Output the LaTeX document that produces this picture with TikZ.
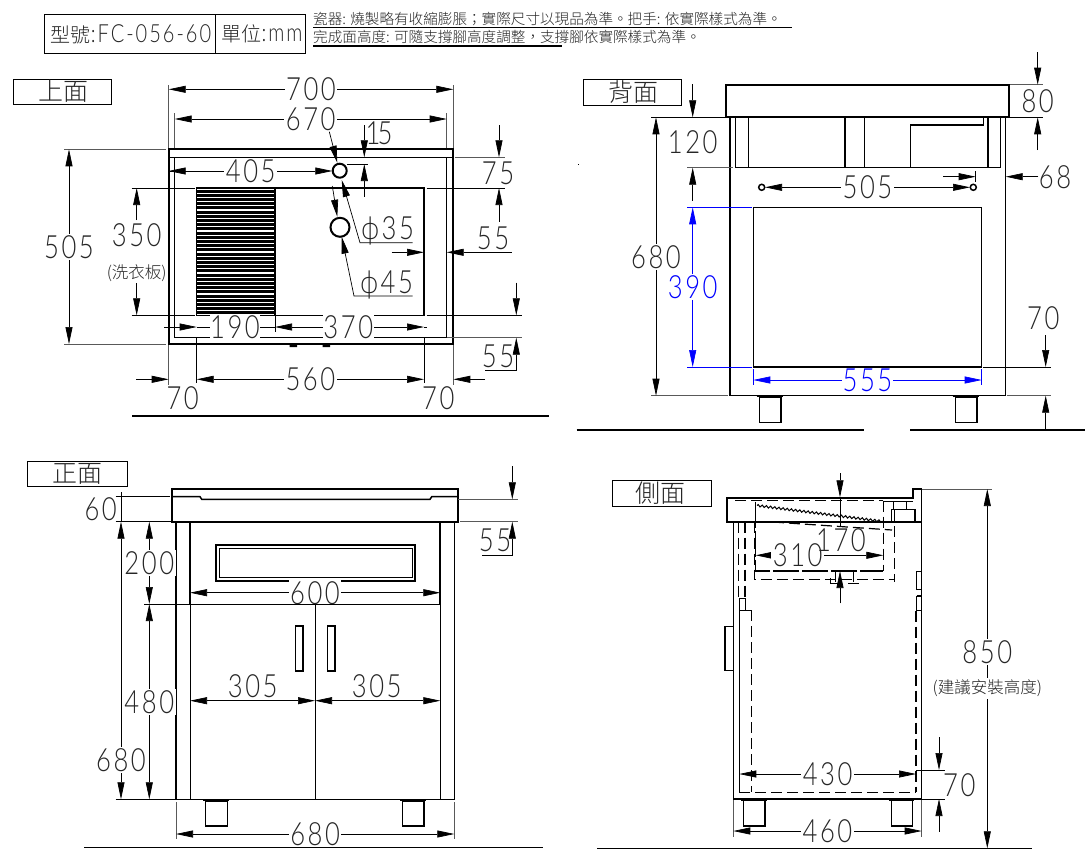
\documentclass[tikz,border=0pt]{standalone}
\usepackage{fontspec}
\usetikzlibrary{arrows.meta,decorations.pathmorphing}
\setmainfont{Liberation Sans}
\newfontfamily\cjk[UprightFont=* Light]{Noto Sans CJK TC}
\newfontfamily\dimf[UprightFont=* Light,FakeStretch=0.8,LetterSpace=8]{Lato}
\definecolor{ext}{gray}{0.35}
\tikzset{
  x=1pt,y=-1pt,
  obj/.style={draw=black,line width=1.5pt,line join=miter},
  thick obj/.style={draw=black,line width=2pt},
  thinl/.style={draw=black,line width=0.8pt},
  extl/.style={draw=ext,line width=0.9pt},
  hid/.style={draw=black,line width=1.2pt,dash pattern=on 11pt off 5pt},
  dim/.style={draw=black,line width=0.7pt},
  d2/.style={dim,{Triangle[length=17pt,width=7pt]}-{Triangle[length=17pt,width=7pt]}},
  d1/.style={dim,-{Triangle[length=17pt,width=7pt]}},
  dt/.style={font=\dimf\fontsize{32}{32}\selectfont,text=black!85,fill=white,inner sep=1.5pt,text height=23pt,text depth=0pt,anchor=center},
  dtn/.style={dt,fill=none},
  cj/.style={font=\cjk\fontsize{16.5}{18}\selectfont,text=black!85,inner sep=0pt},
  note/.style={font=\cjk\fontsize{14.6}{16}\selectfont,text=black!85,inner sep=0pt,anchor=west},
  lab/.style={draw=black,line width=0.9pt,fill=white},
  labt/.style={font=\cjk\fontsize{25}{25}\selectfont,text=black!85,inner sep=0pt},
}
\begin{document}
\begin{tikzpicture}
\useasboundingbox (0,0) rectangle (1085,863);
\fill[white] (0,0) rectangle (1085,863);

% ===== title block
\draw[thinl,line width=1pt] (44,14) rectangle (305,53);
\draw[thinl,line width=1pt] (215,14) -- (215,53);
\node (tmodel) [font=\fontsize{20}{20}\selectfont,inner sep=0pt,text=black!85] at (131,34) {{\cjk 型號}{\dimf\fontsize{25}{25}\selectfont :FC-056-60}};
\node (tunit) [font=\fontsize{20}{20}\selectfont,inner sep=0pt,text=black!85] at (262,34) {{\cjk 單位}{\dimf\fontsize{25}{25}\selectfont :mm}};
\node (n1) [note] at (313,18.5) {瓷器: 燒製略有收縮膨脹；實際尺寸以現品為準。把手: 依實際樣式為準。};
\node (n2) [note] at (313,37) {完成面高度: 可隨支撐腳高度調整，支撐腳依實際樣式為準。};
\draw[thinl] (313,27) -- (792,27);
\draw[thick obj,line width=1.2pt] (313,46) -- (562,46);

% ===== view labels
\draw[lab] (13,79) rectangle (111,104);
\node (l1) [labt] at (63,91) {上面};
\draw[lab] (583.3,79.3) rectangle (681.3,105);
\node (l2) [labt] at (633,92) {背面};
\draw[lab] (27,461) rectangle (127,486);
\node (l3) [labt] at (77,473.5) {正面};
\draw[lab] (612,480) rectangle (711,506);
\node (l4) [labt] at (660,493) {側面};

% ===== TOP VIEW
\draw[extl] (168.7,85) -- (168.7,385) (453.3,85) -- (453.3,385);
\draw[extl] (174.7,113) -- (174.7,149) (446.7,113) -- (446.7,149);
\draw[thick obj] (168.7,149.3) rectangle (453.3,344);
\draw[obj] (168.7,157.3) -- (453.3,157.3);
\draw[obj] (174.7,157.3) -- (174.7,337.7) -- (446.7,337.7) -- (446.7,157.3);
\draw[obj] (196.7,188) rectangle (424,315.3);
\draw[obj,line width=1.2pt] (275,188) -- (275,315.3);
\foreach \yy in {191,195.2,199.4,203.6,207.8,212,216.2,220.4,224.6,228.8,233,237.2,241.4,245.6,249.8,254,258.2,262.4,266.6,270.8,275,279.2,283.4,287.6,291.8,296,300.2,304.4,308.6,312.8}
  \draw[black,line width=3pt] (196.7,\yy) -- (275,\yy);
\draw[thick obj] (339.7,170.7) circle (7);
\draw[thick obj] (340,227.3) circle (9.5);
\fill[black] (289.5,344) rectangle (297,347) (322.5,344) rectangle (330,347);
\draw[thinl] (196.7,337.7) -- (196.7,383) (424,337.7) -- (424,383);
\draw[thinl] (275,315.3) -- (275,332);
\draw[extl] (64,149.3) -- (166,149.3) (64,344) -- (166,344);
\draw[thinl] (131.7,188) -- (195,188) (131.7,315.3) -- (195,315.3);
\draw[thinl] (426.7,188) -- (505,188) (426.7,315.3) -- (521.7,315.3);
\draw[extl] (455,157.3) -- (505,157.3) (446.7,337.7) -- (521.7,337.7);
\draw[thinl] (347,164) -- (368,164);

\draw[d2] (168.7,89.3) -- node (d700) [dt] {700} (453.3,89.3);
\draw[d2] (174.7,119) -- node (d670) [dt] {670} (446.7,119);
\draw[d2] (69,149.3) -- node (d505) [dt] {505} (69,344);
\draw[d1] (364.3,125) -- (364.3,157.3);
\draw[d1] (364.3,196.7) -- (364.3,164);
\node (d15) [dtn] at (379,133) {1\kern-3pt 5};
\draw[d1] (499,125) -- (499,157.3);
\draw[d1] (499,221.7) -- (499,188);
\node (d75) [dt] at (498,173) {75};
\node (d55a) [dtn] at (493,238) {55};
\draw[d1] (391.7,252.3) -- (424,252.3);
\draw[d1] (511.7,252.3) -- (446.7,252.3);
\draw[d1] (516.3,282.7) -- (516.3,315.3);
\draw[d1] (485,370) -- (516.3,370) -- (516.3,337.7);
\node (d55b) [dtn] at (498,356) {55};
\draw[d1] (136,379.3) -- (168.7,379.3);
\draw[d1] (485,379.3) -- (453.3,379.3);
\node (d70a) [dtn] at (182.7,398) {70};
\node (d70b) [dtn] at (438.3,398) {70};
\draw[d2] (196.7,379.3) -- node (d560) [dt] {560} (424,379.3);
\draw[d1] (168.7,171) -- (332.3,171);
\draw[d1] (185.7,171) -- (168.7,171);
\node (d405) [dt] at (250.7,171) {405};
\draw[d1] (412.7,242.7) -- (360,242.7) -- (341.7,180);
\node (d35) [dtn] at (387.7,228) {ϕ35};
\draw[d1] (412.7,296) -- (354,296) -- (341.7,236.7);
\node (d45) [dtn] at (386.7,281.7) {ϕ45};
\draw[d1] (329.3,131.7) -- (337.3,162.7);
\draw[d1] (332.3,186) -- (337.3,216.7);
\draw[d1] (136.7,220) -- (136.7,188);
\draw[d1] (136.7,283.3) -- (136.7,315.3);
\node (d350) [dtn] at (136.7,235) {350};
\node (dwash) [cj] at (136.7,272.7) {(洗衣板)};
\draw[d1] (164,327) -- (196.7,327);
\draw[dim] (196.7,327) -- (275,327);
\draw[d1] (300,327) -- (275,327);
\draw[d1] (300,327) -- (424,327);
\draw[dim] (424,327) -- (427,327);
\node (d190) [dt,inner sep=0.5pt] at (235,327) {190};
\node (d370) [dt,inner sep=0.5pt] at (348.3,327) {370};
\draw[thick obj,line width=1.3pt] (132.3,416) -- (549,416);

% ===== BACK VIEW
\draw[obj] (730,117.3) rectangle (1005.7,395.7);
\draw[thick obj,fill=white] (726,84.7) rectangle (1009.3,117.3);
\draw[obj] (735.7,117.3) rectangle (1000.7,167.7);
\draw[obj] (748.3,117.3) -- (748.3,167.7) (845,117.3) -- (845,167.7) (864.3,117.3) -- (864.3,167.7) (988,117.3) -- (988,167.7);
\draw[obj] (910.7,167.7) -- (910.7,125) -- (983.3,125) -- (983.3,117.3);
\draw[obj] (753.3,207.3) rectangle (981.7,367);
\draw[obj,fill=white] (761.7,187.3) circle (3);
\draw[obj,fill=white] (973.3,187.3) circle (3);
\draw[thinl] (975.7,171) -- (975.7,182);
\draw[obj] (756.7,396.5) -- (782.7,396.5);
\draw[obj] (759.3,397) rectangle (781,422.7);
\draw[obj] (952.7,396.5) -- (978.7,396.5);
\draw[obj] (955.3,397) rectangle (977,422.7);
\draw[thinl] (651,117.3) -- (726,117.3);
\draw[extl] (651,395.7) -- (728,395.7);
\draw[extl] (687,167.7) -- (733,167.7);
\draw[blue,line width=0.8pt] (687,207.3) -- (751.7,207.3) (687,367) -- (751.7,367);
\draw[extl] (1010,84.7) -- (1043,84.7);
\draw[thinl] (1010,117.3) -- (1043,117.3);
\draw[thinl] (983,367) -- (1050.7,367);
\draw[extl] (1006.7,395.7) -- (1050.7,395.7);
\draw[blue,line width=0.8pt] (753.3,369) -- (753.3,385) (981.7,369) -- (981.7,385);
\draw[d2] (656,117.3) -- node (b680) [dt] {680} (656,395.7);
\draw[d1] (692.7,84) -- (692.7,117.3);
\draw[d1] (692.7,200.7) -- (692.7,167.7);
\node (b120) [dtn] at (692.7,142.3) {120};
\draw[d2,blue,{Triangle[length=17pt,width=7pt,fill=blue]}-{Triangle[length=17pt,width=7pt,fill=blue]}] (692.7,207.3) -- node (b390) [dt,text=blue] {390} (692.7,367);
\draw[d2,blue,{Triangle[length=17pt,width=7pt,fill=blue]}-{Triangle[length=17pt,width=7pt,fill=blue]}] (753.3,380) -- node (b555) [dt,text=blue,inner sep=0.5pt] {555} (981.7,380);
\draw[d2] (765,187.3) -- node (b505) [dt] {505} (970,187.3);
\draw[d1] (943.3,176.7) -- (975.7,176.7);
\draw[d1] (1038.3,176.7) -- (1005.7,176.7);
\node (b68) [dtn] at (1055,176.7) {68};
\draw[d1] (1037.7,52) -- (1037.7,84.7);
\draw[d1] (1037.7,150) -- (1037.7,117.3);
\node (b80) [dtn] at (1037.7,100.7) {80};
\draw[d1] (1045.7,335) -- (1045.7,367);
\draw[d1] (1045.7,429) -- (1045.7,395.7);
\node (b70) [dtn] at (1043.3,318.3) {70};
\fill[black] (577.5,163.5) rectangle (578.5,164.5);
\draw[thick obj,line width=1.3pt] (576.7,430) -- (864,430) (910,430) -- (1085,430);

% ===== FRONT VIEW
\draw[obj] (176,521.7) rectangle (454.3,799.3);
\draw[thick obj,fill=white] (172.3,489) rectangle (458.3,521.7);
\draw[obj] (172.3,496.7) -- (200,496.7) -- (201.7,499.3) -- (430,499.3) -- (431.7,496.7) -- (458.3,496.7);
\draw[thick obj] (190,521.7) -- (190,604) (440.3,521.7) -- (440.3,604);
\draw[thinl,line width=1pt] (190,604) -- (190,799.3) (440.3,604) -- (440.3,799.3);
\draw[thick obj] (215.7,544.7) rectangle (415,580.7);
\draw[thinl] (219,548) rectangle (412.3,577.7);
\draw[d2] (190,592.7) -- (440.3,592.7);
\node (f600) [dt] at (315,592.7) {600};
\draw[thinl] (144,604) -- (441,604);
\draw[thinl] (315,604) -- (315,799.3);
\draw[obj,line width=1.2pt] (295.7,626) rectangle (303,671) (327.7,626) rectangle (335,671);
\draw[d2] (190,700.7) -- (315,700.7);
\draw[d2] (315,700.7) -- (440.3,700.7);
\node (f305a) [dtn] at (252.7,686) {305};
\node (f305b) [dtn] at (376.7,686) {305};
\draw[obj] (203.3,800.5) -- (229.3,800.5);
\draw[obj] (205.7,801) rectangle (227.3,826);
\draw[obj] (400,800.5) -- (426,800.5);
\draw[obj] (402.3,801) rectangle (424,826);
\draw[thinl] (115.7,496.7) -- (170,496.7) (115.7,521.7) -- (172,521.7) (115.7,799.3) -- (176,799.3);
\draw[thinl] (121,492) -- (121,521.7);
\draw[d2] (121,521.7) -- node[pos=0.857] (f680) [dt] {680} (121,799.3);
\node (f60) [dtn] at (100.7,508.7) {60};
\draw[d2] (149.3,521.7) -- node (f200) [dt] {200} (149.3,604);
\draw[d2] (149.3,604) -- node (f480) [dt] {480} (149.3,799.3);
\draw[extl] (458.3,499.3) -- (518,499.3) (460,521.7) -- (518,521.7);
\draw[d1] (512.3,466) -- (512.3,499.3);
\draw[d1] (482.3,555) -- (512.3,555) -- (512.3,521.7);
\node (f55) [dtn] at (495,540) {55};
\draw[extl] (176,802) -- (176,839) (454.3,802) -- (454.3,839);
\draw[d2] (176,834) -- node (f680b) [dt] {680} (454.3,834);
\draw[thick obj,line width=1.3pt] (84,847.7) -- (543,847.7);

% ===== SIDE VIEW
\draw[extl] (921.7,489) -- (992,489);
\draw[thick obj] (921.7,489) -- (913.3,489) -- (913.3,497.5) -- (727.3,497.5) -- (727.3,521.7) -- (921.7,521.7);
\draw[obj] (921.7,489) -- (921.7,799);
\draw[obj] (733.3,521.7) -- (733.3,799) -- (921.7,799);
\draw[obj,line width=1.2pt] (739.3,610) -- (739.3,792.3);
\draw[hid] (738.5,521.7) -- (738.5,598);
\draw[hid] (745,521.7) -- (745,598);
\draw[obj,line width=1pt] (739.3,610) -- (739.3,598) -- (745,598) -- (745,610);
\draw[obj,line width=1pt] (739.3,610) -- (751.7,610);
\draw[hid] (751.7,610) -- (751.7,792.3);
\draw[hid] (739.3,792.3) -- (916,792.3);
\draw[hid] (916,610.7) -- (916,792.3);
\draw[obj] (733.3,626.7) -- (725,626.7) -- (725,670.7) -- (733.3,670.7);
\draw[hid] (735,500.7) -- (883.3,500.7);
\draw[hid] (883.3,500.7) -- (883.3,571);
\draw[obj,line width=1.2pt] (883.3,501.7) -- (913,501.7);
\draw[obj,line width=1.2pt,dash pattern=on 26pt off 3pt] (755.7,501.7) -- (755.7,571) -- (883.3,571);
\draw[hid] (754.3,521.7) -- (754.3,579.2) -- (894.3,579.2);
\draw[hid] (894.3,510) -- (894.3,581.7);
\draw[hid] (773,522) -- (892,530);
\draw[black,line width=1pt,decorate,decoration={zigzag,segment length=4.2pt,amplitude=1.1pt}] (757,505.5) -- (883.3,521.5);
\draw[obj,line width=1.2pt] (891.7,521.7) -- (891.7,509.3) -- (915,509.3) -- (915,521.7);
\draw[thinl] (906.7,501.7) -- (906.7,509.3) (893.3,501.7) -- (893.3,509.3);
\draw[obj,line width=1pt] (835,571) -- (835,581.5) (853.5,571) -- (853.5,581.5);
\draw[obj,line width=1pt] (830,578) -- (830,583) -- (839,583) (848,583) -- (859,583);
\draw[obj,line width=1.2pt] (916.7,590) -- (916.7,571.7) -- (921,571.7);
\draw[obj,line width=1.2pt] (916.7,596) -- (921,596) (916.7,589.3) -- (921,589.3);
\draw[obj,line width=1.2pt] (916.7,610.7) -- (921,610.7) (916.7,596) -- (916.7,610.7);
\draw[thinl] (840,497.3) -- (840,526) ;
\draw[d1] (840,473.3) -- (840,497.3);
\draw[d1] (840,603.3) -- (840,571);
\draw[d2] (755.7,555.3) -- (883.3,555.3);
\node (s310) [dt] at (797.7,555.3) {310};
\node (s170) [dtn] at (841,540) {170};
\draw[obj] (741,800) -- (767.3,800);
\draw[obj] (743.3,800.5) rectangle (765,826);
\draw[obj] (889,800) -- (914,800);
\draw[obj] (891.3,800.5) rectangle (912.3,826);
\draw[d2] (987.3,489) -- node[pos=0.453] (s850) [dt] {850} (987.3,848.3);
\node (sadv) [cj,fill=white,inner sep=2pt] at (987.3,688.3) {(建議安裝高度)};
\draw[d2] (739.3,774) -- node (s430) [dt] {430} (916,774);
\draw[thinl] (916,770) -- (945,770) (921.7,799) -- (945,799);
\draw[d1] (939,737.3) -- (939,770);
\draw[d1] (939,831.7) -- (939,799);
\node (s70) [dtn] at (959.3,785) {70};
\draw[extl] (733.3,800) -- (733.3,836.7) (921.7,800) -- (921.7,836.7);
\draw[d2] (733.3,831) -- node (s460) [dt] {460} (921.7,831);
\draw[thick obj,line width=1.3pt] (597,848.3) -- (1031.7,848.3);
\end{tikzpicture}
\end{document}
